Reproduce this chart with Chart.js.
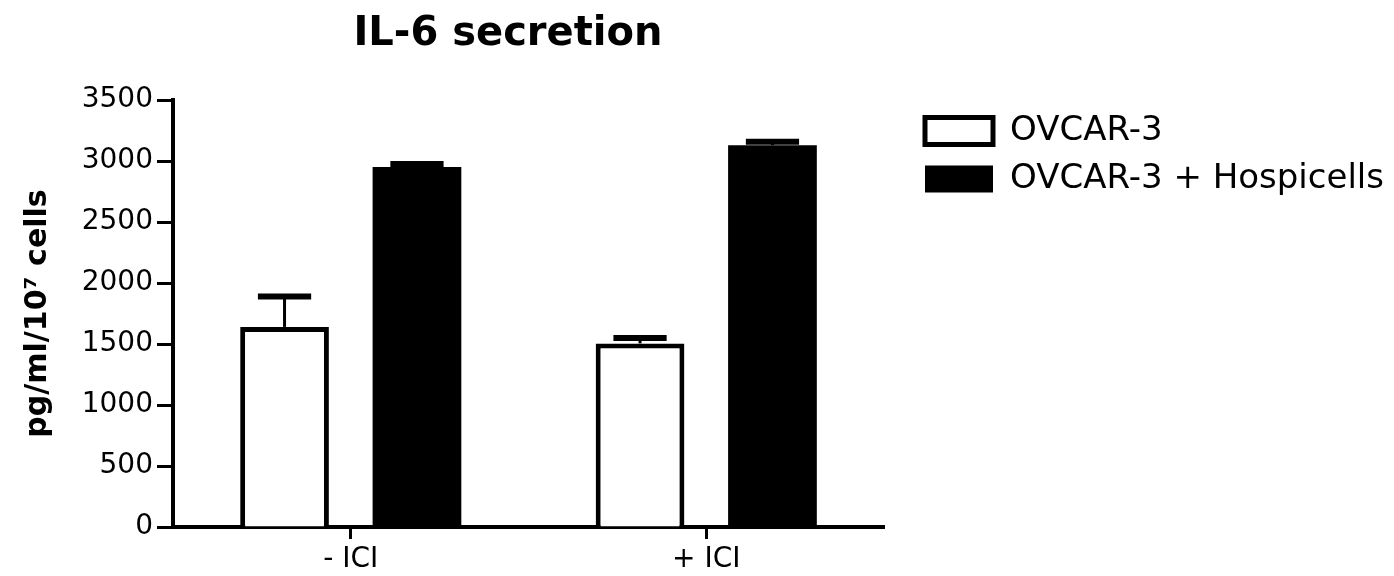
<!DOCTYPE html>
<html>
<head>
<meta charset="utf-8">
<title>IL-6 secretion</title>
<script src="https://cdn.jsdelivr.net/npm/chart.js@4.4.1/dist/chart.umd.min.js"></script>
<style>
  html, body { margin: 0; padding: 0; background: #ffffff; }
  canvas { display: block; }
</style>
</head>
<body>
<canvas id="chart" width="1394" height="576"></canvas>
<script>
// Treatment groups on the x axis
const groups = ['- ICI', '+ ICI'];

// IL-6 in pg/ml per 10^7 cells (mean, upper error)
const ovcar3 = [1640, 1505];
const ovcar3Err = [250, 45];
const ovcar3Hospi = [2950, 3130];
const ovcar3HospiErr = [25, 28];

// Y axis tick values
const yTickValues = [0, 500, 1000, 1500, 2000, 2500, 3000, 3500];

const FONT = 'DejaVu Sans';
const INK = '#000000';

// Upper error bars (stem + cap) drawn from each bar's value
const errorBars = {
  id: 'errorBars',
  afterDatasetsDraw(chart) {
    const ctx = chart.ctx;
    const y = chart.scales.y;
    chart.data.datasets.forEach((ds, i) => {
      const meta = chart.getDatasetMeta(i);
      meta.data.forEach((bar, j) => {
        const top = y.getPixelForValue(ds.data[j] + ds.errors[j]);
        const half = bar.width * 0.3;
        ctx.save();
        ctx.strokeStyle = INK;
        ctx.lineWidth = 3;
        ctx.beginPath();
        ctx.moveTo(bar.x, bar.y);
        ctx.lineTo(bar.x, top);
        ctx.stroke();
        ctx.lineWidth = 6;
        ctx.beginPath();
        ctx.moveTo(bar.x - half, top);
        ctx.lineTo(bar.x + half, top);
        ctx.stroke();
        ctx.restore();
      });
    });
  }
};

// Chart heading
const heading = {
  id: 'heading',
  afterDraw(chart) {
    const ctx = chart.ctx;
    ctx.save();
    ctx.fillStyle = INK;
    ctx.font = 'bold 40px "' + FONT + '"';
    ctx.textAlign = 'center';
    ctx.textBaseline = 'middle';
    ctx.fillText('IL-6 secretion', 508, 35);
    ctx.restore();
  }
};

new Chart(document.getElementById('chart'), {
  type: 'bar',
  data: {
    labels: groups,
    datasets: [
      {
        label: 'OVCAR-3',
        data: ovcar3,
        errors: ovcar3Err,
        backgroundColor: '#ffffff',
        borderColor: INK,
        borderWidth: 5
      },
      {
        label: 'OVCAR-3 + Hospicells',
        data: ovcar3Hospi,
        errors: ovcar3HospiErr,
        backgroundColor: INK,
        borderColor: INK,
        borderWidth: 0
      }
    ]
  },
  options: {
    responsive: false,
    animation: false,
    devicePixelRatio: 1,
    categoryPercentage: 0.745,
    barPercentage: 0.67,
    layout: { padding: { top: 100, right: 0, bottom: 0, left: 0 } },
    plugins: {
      title: { display: false },
      tooltip: { enabled: false },
      legend: {
        display: true,
        position: 'right',
        align: 'start',
        maxWidth: 600,
        labels: {
          boxWidth: 68,
          boxHeight: 27,
          padding: 14,
          color: INK,
          font: { family: FONT, size: 34 }
        }
      }
    },
    scales: {
      x: {
        grid: {
          display: true,
          drawOnChartArea: false,
          drawTicks: true,
          offset: false,
          tickLength: 12,
          tickWidth: 3,
          tickColor: INK
        },
        border: { display: true, color: INK, width: 4 },
        ticks: {
          color: INK,
          padding: 4,
          font: { family: FONT, size: 28 }
        },
        afterFit(s) { s.height = 49; }
      },
      y: {
        min: 0,
        max: 3500,
        afterBuildTicks(s) { s.ticks = yTickValues.map(v => ({ value: v })); },
        grid: {
          display: true,
          drawOnChartArea: false,
          drawTicks: true,
          tickLength: 16,
          tickWidth: 3,
          tickColor: INK
        },
        border: { display: true, color: INK, width: 4 },
        ticks: {
          color: INK,
          padding: 4,
          font: { family: FONT, size: 28 },
          callback: v => String(v)
        },
        title: {
          display: true,
          text: 'pg/ml/10\u2077 cells',
          color: INK,
          padding: { top: 20, bottom: 0 },
          font: { family: FONT, size: 30, weight: 'bold' }
        },
        afterFit(s) { s.width = 173; }
      },
      gap: {
        position: 'right',
        display: true,
        grid: { display: false },
        border: { display: false },
        ticks: { display: false },
        afterFit(s) { s.width = 27; }
      }
    }
  },
  plugins: [errorBars, heading]
});
</script>
</body>
</html>
